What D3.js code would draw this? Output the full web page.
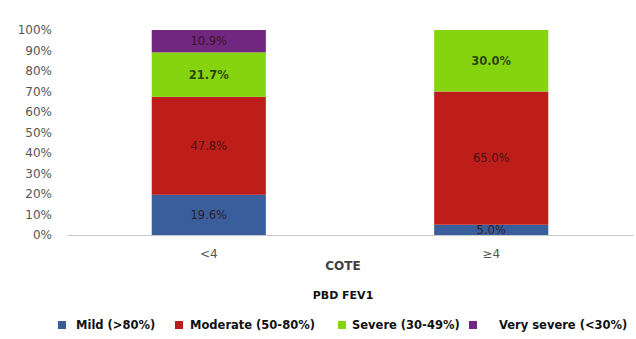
<!DOCTYPE html>
<html>
<head>
<meta charset="utf-8">
<script src="https://cdn.jsdelivr.net/npm/d3@7"></script>
<style>
  html, body { margin: 0; padding: 0; background: #fff; }
  svg { display: block; }
</style>
</head>
<body>
<svg id="chart" width="636" height="339"></svg>
<script>
// COTE groups and FEV1 severity shares (%)
const categories = ["<4", "≥4"];
const seriesNames = ["Mild (>80%)", "Moderate (50-80%)", "Severe (30-49%)", "Very severe (<30%)"];
const mild = [19.6, 5.0];
const moderate = [47.8, 65.0];
const severe = [21.7, 30.0];
const verySevere = [10.9, 0];
const yTicks = [0, 10, 20, 30, 40, 50, 60, 70, 80, 90, 100];

const colors = ["#3A5D9C", "#BE1E1A", "#86D40F", "#71277F"];
const seriesValues = [mild, moderate, severe, verySevere];

const rows = categories.map((c, i) => {
  const r = { cat: c };
  seriesNames.forEach((s, k) => r[s] = seriesValues[k][i]);
  return r;
});
const stacked = d3.stack().keys(seriesNames)(rows);

const svg = d3.select("#chart");
const plot = { left: 67, right: 633, top: 30, bottom: 235 };
const font = "DejaVu Sans, Verdana, sans-serif";

const x = d3.scaleBand().domain(categories).range([plot.left, plot.right])
  .paddingInner(0.596).paddingOuter(0.3);
const y = d3.scaleLinear().domain([0, 100]).range([plot.bottom, plot.top]);

// y axis labels
const yAxis = d3.axisLeft(y).tickValues(yTicks).tickFormat(d => d + "%").tickSize(0).tickPadding(0);
const yg = svg.append("g").attr("transform", `translate(${52},0)`).call(yAxis);
yg.select(".domain").remove();
yg.selectAll("text").attr("fill", "#555").style("font-family", font).style("font-size", "12px");

// bars
const layer = svg.append("g").selectAll("g").data(stacked).join("g")
  .attr("fill", (d, i) => colors[i]);
layer.selectAll("rect").data(d => d).join("rect")
  .attr("x", d => x(d.data.cat))
  .attr("width", x.bandwidth())
  .attr("y", d => y(d[1]))
  .attr("height", d => y(d[0]) - y(d[1]));

// baseline axis
const xAxis = d3.axisBottom(x).tickSize(0).tickPadding(14);
const xg = svg.append("g").attr("transform", `translate(0,${plot.bottom})`).call(xAxis);
xg.select(".domain").attr("stroke", "#c8c8c8").attr("stroke-width", 1.2);
xg.selectAll("text").attr("fill", "#555").style("font-family", font).style("font-size", "12px");

// segment value labels
stacked.forEach((s, k) => {
  svg.append("g").selectAll("text").data(s.filter(d => d[1] - d[0] > 0)).join("text")
    .attr("x", d => x(d.data.cat) + x.bandwidth() / 2)
    .attr("y", d => (y(d[0]) + y(d[1])) / 2)
    .attr("dy", "0.35em")
    .attr("text-anchor", "middle")
    .attr("fill", k === 2 ? "#1a2a05" : "#2a1010")
    .attr("fill-opacity", 0.85)
    .style("font-family", font)
    .style("font-size", "11.5px")
    .style("font-weight", k === 2 ? "bold" : "normal")
    .text(d => (d[1] - d[0]).toFixed(1) + "%");
});

// axis titles
svg.append("text").attr("x", 343).attr("y", 266).attr("dy", "0.35em").attr("text-anchor", "middle")
  .attr("fill", "#404040").style("font-family", font)
  .style("font-size", "12px").style("font-weight", "bold").text("COTE");
svg.append("text").attr("x", 343).attr("y", 295).attr("dy", "0.35em").attr("text-anchor", "middle")
  .attr("fill", "#111").style("font-family", font)
  .style("font-size", "11px").style("font-weight", "bold").text("PBD FEV1");

// legend
const legendX = [58, 175, 338, 469];
const textOffset = [18, 15, 14, 30];
const lg = svg.append("g").selectAll("g").data(seriesNames).join("g")
  .attr("transform", (d, i) => `translate(${legendX[i]},325)`);
lg.append("rect").attr("x", 0).attr("y", -4).attr("width", 8).attr("height", 8)
  .attr("fill", (d, i) => colors[i]);
lg.append("text").attr("x", (d, i) => textOffset[i]).attr("y", 0).attr("dy", "0.35em")
  .attr("fill", "#111").style("font-family", font)
  .style("font-size", "11.5px").style("font-weight", "bold").text(d => d);
</script>
</body>
</html>
